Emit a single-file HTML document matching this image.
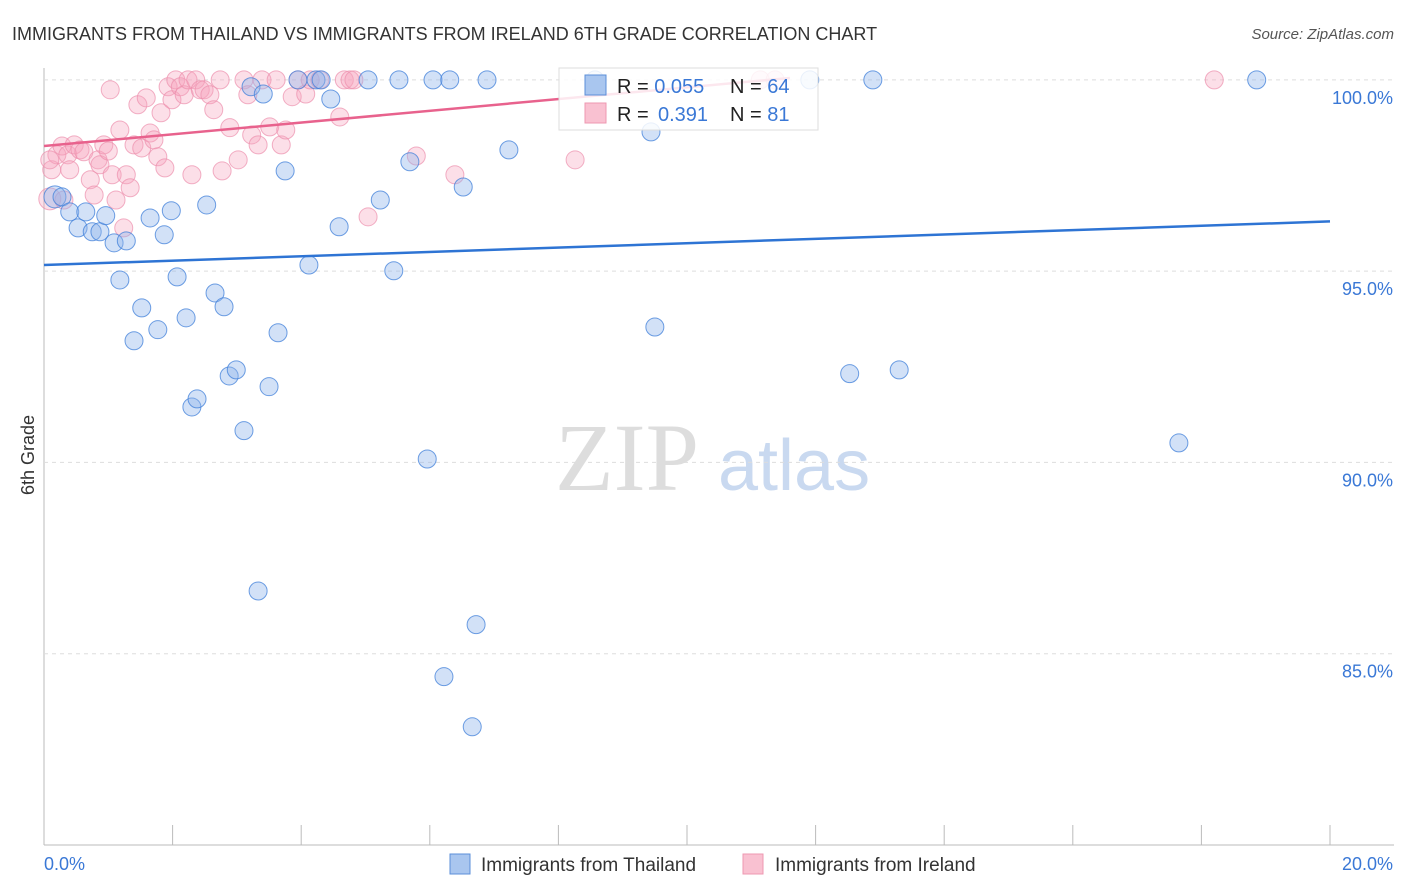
<!DOCTYPE html>
<html><head><meta charset="utf-8"><style>
body{margin:0;background:#fff;font-family:"Liberation Sans",sans-serif;}
#c{position:absolute;left:0;top:0;}
</style></head><body>
<svg id="c" width="1406" height="892" font-family="Liberation Sans, sans-serif">
<text x="12" y="40" font-size="18" fill="#333">IMMIGRANTS FROM THAILAND VS IMMIGRANTS FROM IRELAND 6TH GRADE CORRELATION CHART</text>
<text x="1394" y="39" font-size="15" fill="#555" font-style="italic" text-anchor="end">Source: ZipAtlas.com</text>
<text x="555" y="490" font-size="96" fill="#ddd" font-family="Liberation Serif, serif">ZIP</text>
<text x="718" y="490" font-size="72" fill="#c9d9f0">atlas</text>
<text transform="translate(34,455) rotate(-90)" font-size="18" fill="#333" text-anchor="middle">6th Grade</text>
<g id="grid"></g><g id="marks"></g>
<g>
<rect x="559" y="68" width="259" height="62" fill="#fff" fill-opacity="0.85" stroke="#ddd"/>
<rect x="585" y="75" width="21" height="20" fill="#a9c6ef" stroke="#5b8fd8"/>
<rect x="585" y="103" width="21" height="20" fill="#f9c1d1" stroke="#ee98b1"/>
<text x="617" y="93" font-size="20" fill="#222">R = <tspan fill="#3a78d6">0.055</tspan><tspan x="730">N = </tspan><tspan fill="#3a78d6">64</tspan></text>
<text x="617" y="121" font-size="20" fill="#222">R = <tspan x="658" fill="#3a78d6">0.391</tspan><tspan x="730">N = </tspan><tspan fill="#3a78d6"> 81</tspan></text>
</g>
<g>
<rect x="450" y="854" width="20" height="20" fill="#a9c6ef" stroke="#5b8fd8"/>
<text x="481" y="871" font-size="19" fill="#333">Immigrants from Thailand</text>
<rect x="743" y="854" width="20" height="20" fill="#f9c1d1" stroke="#ee98b1"/>
<text x="775" y="871" font-size="19" fill="#333">Immigrants from Ireland</text>
</g>
</svg>
<script>
const yTicks=[100,95,90,85];
const yTickLabels=["100.0%","95.0%","90.0%","85.0%"];
const xTicks=[0,2,4,6,8,10,12,14,16,18,20];
const xEndLabels=["0.0%","20.0%"];
const thX=[0.17,0.28,0.40,0.53,0.65,0.75,0.87,0.96,1.09,1.18,1.28,1.40,1.52,1.65,1.77,1.87,1.98,2.07,2.21,2.30,2.38,2.53,2.66,2.80,2.88,2.99,3.11,3.22,3.33,3.41,3.50,3.64,3.75,3.95,4.12,4.23,4.31,4.46,4.59,5.04,5.23,5.44,5.52,5.69,5.96,6.05,6.22,6.31,6.52,6.66,6.72,6.89,7.23,8.57,9.44,9.50,12.53,12.89,13.30,17.65,18.86,11.91];
const thY=[96.94,96.94,96.55,96.13,96.55,96.03,96.03,96.45,95.74,94.77,95.79,93.18,94.04,96.39,93.47,95.95,96.58,94.85,93.78,91.45,91.66,96.73,94.43,94.07,92.26,92.42,90.83,99.82,86.64,99.63,91.98,93.39,97.62,100,95.16,100,100,99.50,96.16,100,96.86,95.01,100,97.86,90.09,100,84.40,100,97.20,83.09,85.76,100,98.17,100,98.64,93.54,92.32,100,92.42,90.51,100,100];
const irX=[0.09,0.12,0.20,0.28,0.37,0.40,0.47,0.56,0.62,0.72,0.78,0.84,0.87,0.93,1.00,1.06,1.12,1.18,1.24,1.28,1.34,1.40,1.46,1.52,1.59,1.65,1.71,1.77,1.82,1.88,1.93,1.99,2.05,2.12,2.18,2.24,2.30,2.36,2.43,2.49,2.58,2.64,2.74,2.77,2.89,3.02,3.11,3.17,3.23,3.33,3.39,3.51,3.61,3.69,3.76,3.86,3.95,4.07,4.14,4.29,4.60,4.67,4.76,4.82,5.04,5.79,6.39,8.26,11.14,11.37,18.20,0.09,1.03,0.31];
const irY=[96.89,97.65,98.04,98.27,98.04,97.65,98.30,98.17,98.12,97.39,96.99,97.91,97.78,98.30,98.14,97.52,96.86,98.69,96.13,97.52,97.18,98.30,99.35,98.22,99.53,98.61,98.43,97.99,99.14,97.70,99.82,99.48,100,99.82,99.61,100,97.52,100,99.74,99.74,99.61,99.22,100,97.62,98.75,97.91,100,99.61,98.56,98.30,100,98.77,100,98.30,98.69,99.56,100,99.63,100,100,99.03,100,100,100,96.42,98.01,97.52,97.91,100,100,100,97.91,99.74,96.86];
const thTrendX=[0,20], thTrendY=[95.16,96.30];
const irTrendX=[0,11.6], irTrendY=[98.27,100.05];
const L=44,R=1330,T=68,B=845,xMin=0,xMax=20,yMin=80,yMax=100.31;
const sx=v=>L+(v-xMin)/(xMax-xMin)*(R-L);
const sy=v=>B-(v-yMin)/(yMax-yMin)*(B-T);
const NS="http://www.w3.org/2000/svg";
function mk(tag,at,parent){const e=document.createElementNS(NS,tag);for(const k in at)e.setAttribute(k,at[k]);parent.appendChild(e);return e;}
const g=document.getElementById('grid'),m=document.getElementById('marks');
let ax=mk('line',{x1:L,y1:T,x2:L,y2:B,stroke:'#bbb'},g);


let bx=mk('line',{x1:L,y1:B,x2:1394,y2:B,stroke:'#bbb'},g);


yTicks.forEach((t,i)=>{
 const gl=mk('line',{x1:L,y1:sy(t),x2:1394,y2:sy(t),stroke:'#ddd','stroke-dasharray':'4,4'},g);
 
 
 const tx=mk('text',{x:1393,y:sy(t)+24,'font-size':18,fill:'#3a78d6','text-anchor':'end'},g);
 tx.textContent=yTickLabels[i];
 
 
});
xTicks.forEach(t=>{
 const tk=mk('line',{x1:sx(t),y1:B-20,x2:sx(t),y2:B,stroke:'#bbb'},g);
 
 
});
const xl0=mk('text',{x:44,y:870,'font-size':18,fill:'#3a78d6'},g);xl0.textContent=xEndLabels[0];


const xl1=mk('text',{x:1393,y:870,'font-size':18,fill:'#3a78d6','text-anchor':'end'},g);xl1.textContent=xEndLabels[1];


irX.forEach((x,i)=>{
 const c=mk('circle',{cx:sx(x),cy:sy(irY[i]),r:i===0?11:9,fill:'#f5a3bd','fill-opacity':0.35,stroke:'#ec8fac','stroke-opacity':0.7,'stroke-width':1},m);
 
 
});
thX.forEach((x,i)=>{
 const c=mk('circle',{cx:sx(x),cy:sy(thY[i]),r:i===0?11:9,fill:'#8fb5ea','fill-opacity':0.4,stroke:'#3f7fd9','stroke-opacity':0.75,'stroke-width':1},m);
 
 
});
const tl=mk('line',{x1:sx(thTrendX[0]),y1:sy(thTrendY[0]),x2:sx(thTrendX[1]),y2:sy(thTrendY[1]),stroke:'#2e74d4','stroke-width':2.5},m);


const il=mk('line',{x1:sx(irTrendX[0]),y1:sy(irTrendY[0]),x2:sx(irTrendX[1]),y2:sy(irTrendY[1]),stroke:'#e8628d','stroke-width':2.5},m);


</script>
</body></html>
